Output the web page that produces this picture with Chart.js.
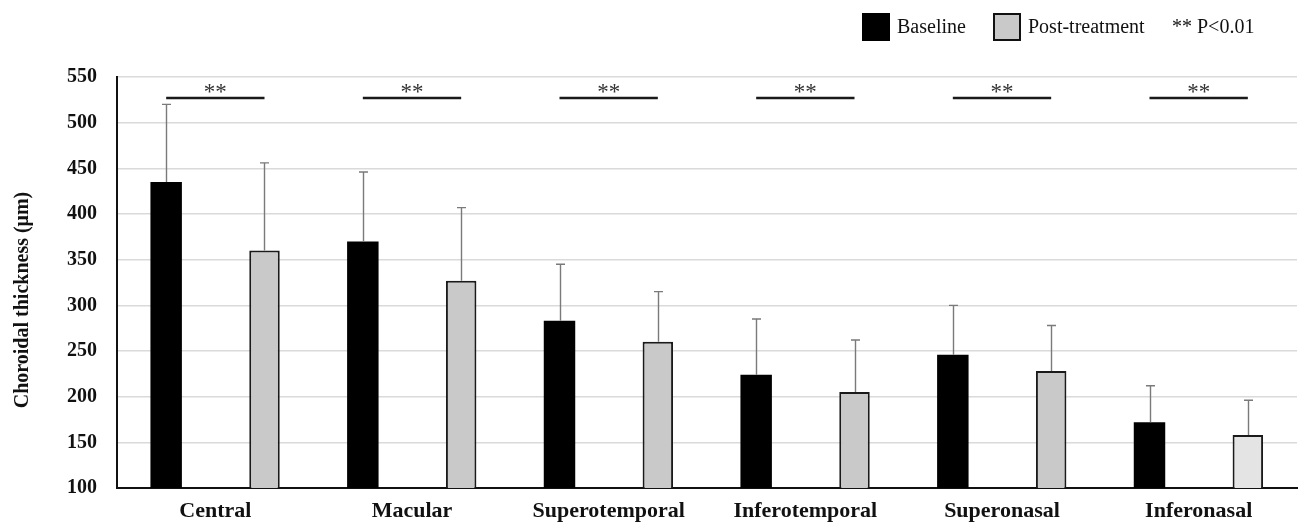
<!DOCTYPE html>
<html>
<head>
<meta charset="utf-8">
<script src="https://cdn.jsdelivr.net/npm/chart.js@4"></script>
<style>
html,body{margin:0;padding:0;background:#fff;}
#wrap{width:1300px;height:525px;position:relative;}
</style>
</head>
<body>
<div id="wrap"><canvas id="c" width="1300" height="525"></canvas></div>
<script>
const categories = ['Central','Macular','Superotemporal','Inferotemporal','Superonasal','Inferonasal'];
const baseline = [435, 370, 283, 224, 246, 172];
const baselineSD = [85, 76, 62, 61, 54, 40];
const postTreatment = [360, 327, 260, 205, 228, 158];
const postTreatmentSD = [96, 80, 55, 57, 50, 38];
const sigLevel = [527, 527, 527, 527, 527, 527];
const sigLabel = ['**','**','**','**','**','**'];
const yTicks = [100,150,200,250,300,350,400,450,500,550];
const seriesNames = ['Baseline','Post-treatment'];
const yTitle = 'Choroidal thickness (μm)';
const noteText = '** P<0.01';

const postColors = ['#c9c9c9','#c9c9c9','#c9c9c9','#c9c9c9','#c9c9c9','#e4e4e4'];
const serif = "'Liberation Serif','Times New Roman',serif";

const extras = {
  id: 'extras',
  afterDatasetsDraw(chart) {
    const ctx = chart.ctx;
    const y = chart.scales.y;
    const sds = [baselineSD, postTreatmentSD];
    ctx.save();
    ctx.strokeStyle = '#7a7a7a';
    ctx.lineWidth = 1.4;
    [0,1].forEach(di => {
      const meta = chart.getDatasetMeta(di);
      meta.data.forEach((bar, i) => {
        const v = chart.data.datasets[di].data[i];
        const top = y.getPixelForValue(v + sds[di][i]);
        const x = Math.round(bar.x) + 0.5;
        ctx.beginPath();
        ctx.moveTo(x, bar.y);
        ctx.lineTo(x, top);
        ctx.moveTo(x - 4.5, top);
        ctx.lineTo(x + 4.5, top);
        ctx.stroke();
      });
    });
    const m0 = chart.getDatasetMeta(0), m1 = chart.getDatasetMeta(1);
    ctx.strokeStyle = '#1a1a1a';
    ctx.lineWidth = 2.7;
    ctx.fillStyle = '#333';
    ctx.font = '23px ' + serif;
    ctx.textAlign = 'center';
    ctx.textBaseline = 'middle';
    sigLevel.forEach((lv, i) => {
      const py = y.getPixelForValue(lv);
      const x0 = m0.data[i].x, x1 = m1.data[i].x;
      ctx.beginPath();
      ctx.moveTo(x0, py);
      ctx.lineTo(x1, py);
      ctx.stroke();
      ctx.fillText(sigLabel[i], (x0 + x1) / 2, py - 5);
    });
    ctx.restore();
  },
  afterDraw(chart) {
    const ctx = chart.ctx;
    ctx.save();
    ctx.translate(23, 300);
    ctx.rotate(-Math.PI / 2);
    ctx.font = 'bold 20px ' + serif;
    ctx.fillStyle = '#111';
    ctx.textAlign = 'center';
    ctx.textBaseline = 'middle';
    ctx.fillText(yTitle, 0, 0);
    ctx.restore();
    ctx.save();
    ctx.font = '20px ' + serif;
    ctx.textBaseline = 'middle';
    ctx.textAlign = 'left';
    ctx.fillStyle = '#000';
    ctx.fillRect(862, 13, 28, 28);
    ctx.fillStyle = '#111';
    ctx.fillText(seriesNames[0], 897, 28);
    ctx.fillStyle = '#c9c9c9';
    ctx.fillRect(994, 14, 26, 26);
    ctx.strokeStyle = '#111';
    ctx.lineWidth = 2;
    ctx.strokeRect(994, 14, 26, 26);
    ctx.fillStyle = '#111';
    ctx.fillText(seriesNames[1], 1028, 28);
    ctx.fillText(noteText, 1172, 28);
    ctx.restore();
  }
};

new Chart(document.getElementById('c'), {
  type: 'bar',
  data: {
    labels: categories,
    datasets: [
      { label: seriesNames[0], data: baseline, backgroundColor: '#000', borderColor: '#000', borderWidth: 0,
        categoryPercentage: 1.0, barPercentage: 0.32 },
      { label: seriesNames[1], data: postTreatment, backgroundColor: postColors, borderColor: '#1a1a1a', borderWidth: 2,
        borderSkipped: 'bottom', categoryPercentage: 1.0, barPercentage: 0.31 }
    ]
  },
  options: {
    responsive: false,
    animation: false,
    devicePixelRatio: 1,
    layout: { padding: { top: 77, right: 3, left: 0, bottom: 0 } },
    plugins: { legend: { display: false }, tooltip: { enabled: false } },
    scales: {
      x: {
        grid: { display: false, drawTicks: false },
        border: { color: '#111', width: 2 },
        ticks: { color: '#111', font: { family: serif, size: 22, weight: 'bold' }, padding: 10, maxRotation: 0 },
        afterFit(s) { s.height = 37; }
      },
      y: {
        min: 100, max: 550,
        afterBuildTicks(s) { s.ticks = yTicks.map(v => ({ value: v })); },
        grid: { color: '#dadada', lineWidth: 1.5, drawTicks: false },
        border: { color: '#111', width: 2 },
        ticks: { color: '#111', font: { family: serif, size: 20, weight: 'bold' }, padding: 20 },
        afterFit(s) { s.width = 117; }
      }
    }
  },
  plugins: [extras]
});
</script>
</body>
</html>
